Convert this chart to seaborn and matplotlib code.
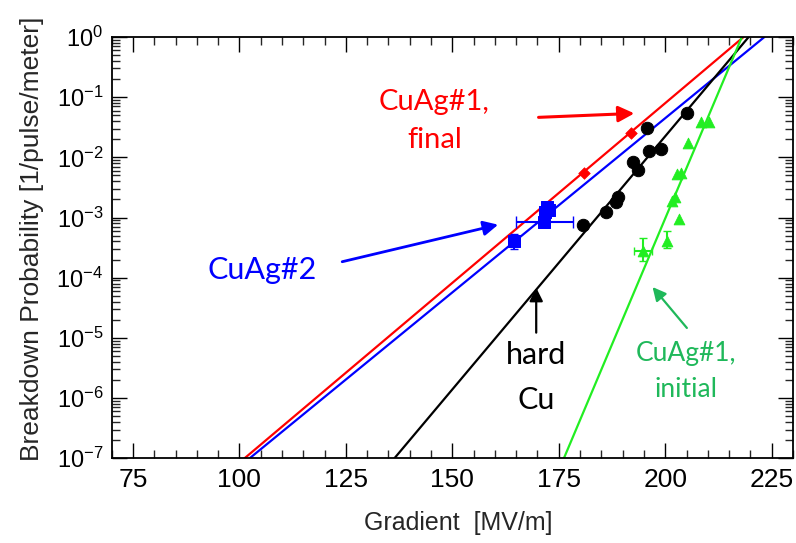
import matplotlib
matplotlib.use("Agg")
import matplotlib.pyplot as plt
import matplotlib.ticker as mticker
from matplotlib import font_manager
import numpy as np
import pandas as pd
import seaborn as sns

# ---- data ----
red_x = [180.9, 191.9]
red_y = [5.5e-3, 2.5e-2]

blue_x = [164.4, 171.6, 171.7, 172.2, 172.6]
blue_y = [4.0e-4, 8.3e-4, 1.25e-3, 1.5e-3, 1.35e-3]

black_x = [180.7, 186.1, 188.5, 189.0, 192.4, 193.6, 195.8, 196.3, 198.9, 205.1]
black_y = [7.5e-4, 1.25e-3, 1.8e-3, 2.2e-3, 8.5e-3, 6.2e-3, 3.1e-2, 1.28e-2, 1.36e-2, 5.4e-2]

green_x = [194.7, 200.5, 201.6, 202.4, 203.2, 202.8, 203.6, 205.4, 208.4, 210.2]
green_y = [2.8e-4, 4.1e-4, 1.9e-3, 2.2e-3, 9.5e-4, 5.3e-3, 5.6e-3, 1.75e-2, 3.9e-2, 3.8e-2]

# fitted lines (end points on the plot)
fit_red_x = [101.2, 218.4]
fit_blue_x = [102.4, 223.3]
fit_black_x = [136.4, 219.6]
fit_green_x = [176.2, 218.0]
fit_y = [1e-7, 1.0]

xticks = [75, 100, 125, 150, 175, 200, 225]
yticks = [1e-7, 1e-6, 1e-5, 1e-4, 1e-3, 1e-2, 1e-1, 1e0]
ytick_labels = [r"$10^{-7}$", r"$10^{-6}$", r"$10^{-5}$", r"$10^{-4}$",
                r"$10^{-3}$", r"$10^{-2}$", r"$10^{-1}$", r"$10^{0}$"]

RED = "#ff0000"
BLUE = "#0000ff"
BLACK = "#000000"
GREEN = "#22ee22"
TEXTGREEN = "#1fb85a"

sns.set_theme(style="ticks")
plt.rcParams["font.family"] = ["Liberation Sans", "DejaVu Sans"]
plt.rcParams["mathtext.fontset"] = "custom"
plt.rcParams["mathtext.rm"] = "Liberation Sans"
plt.rcParams["mathtext.it"] = "Liberation Sans"
plt.rcParams["mathtext.default"] = "regular"

names = {f.name for f in font_manager.fontManager.ttflist}
narrow = "Liberation Sans Narrow" if "Liberation Sans Narrow" in names else "Liberation Sans"
ylab_size = 21 if narrow == "Liberation Sans Narrow" else 19

fig = plt.figure(figsize=(7.96, 5.43), dpi=100)
ax = fig.add_axes([0.1403, 0.156, 0.8559, 0.7759])

# fit lines
for fx, col in [(fit_red_x, RED), (fit_blue_x, BLUE), (fit_black_x, BLACK), (fit_green_x, GREEN)]:
    df = pd.DataFrame({"x": fx, "y": fit_y})
    sns.lineplot(data=df, x="x", y="y", color=col, lw=1.6, ax=ax, zorder=2)

# error bars
ax.errorbar([164.4], [4.0e-4], yerr=[[1.0e-4], [1.4e-4]], fmt="none", ecolor=BLUE, elinewidth=1.5, capsize=3, zorder=3)
ax.errorbar([171.6], [8.3e-4], xerr=[[6.7], [6.7]], fmt="none", ecolor=BLUE, elinewidth=1.5, capsize=4, zorder=3)
ax.errorbar([200.5], [4.1e-4], yerr=[[1.0e-4], [1.8e-4]], fmt="none", ecolor=GREEN, elinewidth=1.5, capsize=3, zorder=3)
ax.errorbar([194.7], [2.8e-4], xerr=[[2.1], [2.1]], yerr=[[0.9e-4], [1.7e-4]], fmt="none", ecolor=GREEN, elinewidth=1.5, capsize=3, zorder=3)

# points
sns.scatterplot(x=red_x, y=red_y, marker="D", s=35, color=RED, edgecolor=RED, ax=ax, zorder=4)
sns.scatterplot(x=blue_x, y=blue_y, marker="s", s=80, color=BLUE, edgecolor=BLUE, ax=ax, zorder=4)
sns.scatterplot(x=black_x, y=black_y, marker="o", s=80, color=BLACK, edgecolor=BLACK, ax=ax, zorder=4)
sns.scatterplot(x=green_x, y=green_y, marker="^", s=60, color=GREEN, edgecolor=GREEN, ax=ax, zorder=4)

ax.set_yscale("log")
ax.set_xlim(70, 230)
ax.set_ylim(1e-7, 1)
ax.set_xticks(xticks)
ax.xaxis.set_minor_locator(mticker.MultipleLocator(5))
ax.set_yticks(yticks)
ax.set_yticklabels(ytick_labels)
ax.yaxis.set_minor_locator(mticker.LogLocator(base=10, subs=np.arange(2, 10), numticks=20))
ax.yaxis.set_minor_formatter(mticker.NullFormatter())
ax.tick_params(which="major", direction="in", length=11, width=1, top=True, right=True,
               labelsize=17, colors="black", pad=6)
ax.tick_params(which="minor", direction="in", length=6, width=1, top=True, right=True)
ax.tick_params(axis="x", which="major", labelsize=19, pad=7)
for sp in ax.spines.values():
    sp.set_linewidth(1.3)
    sp.set_color("black")

ax.set_xlabel("Gradient  [MV/m]", fontsize=18)
ax.xaxis.set_label_coords(0.508, -0.125)
ax.set_ylabel("Breakdown Probability [1/pulse/meter]", fontsize=ylab_size, family=[narrow, "DejaVu Sans"])
ax.yaxis.set_label_coords(-0.100, 0.52)

# annotations
afont = ["Lato", "DejaVu Sans"]
ax.text(145.8, 0.040, "CuAg#1,\nfinal", color=RED, fontsize=21, ha="center", va="center",
        family=afont, linespacing=1.58)
ax.annotate("", xy=(193.4, 0.054), xytext=(169.6, 0.046),
            arrowprops=dict(arrowstyle="-|>", color=RED, lw=2.2, mutation_scale=24))
ax.text(105.3, 1.35e-4, "CuAg#2", color=BLUE, fontsize=22, ha="center", va="center", family=afont)
ax.annotate("", xy=(161.4, 7.8e-4), xytext=(123.5, 1.8e-4),
            arrowprops=dict(arrowstyle="-|>", color=BLUE, lw=2, mutation_scale=22))
ax.text(169.7, 2.2e-6, "hard\nCu", color=BLACK, fontsize=22, ha="center", va="center",
        family=afont, linespacing=1.75)
ax.annotate("", xy=(169.7, 7.6e-5), xytext=(169.7, 1.1e-5),
            arrowprops=dict(arrowstyle="-|>", color=BLACK, lw=1.6, mutation_scale=20))
ax.text(204.9, 2.8e-6, "CuAg#1,\ninitial", color=TEXTGREEN, fontsize=19, ha="center", va="center",
        family=afont, linespacing=1.55)
ax.annotate("", xy=(196.6, 7.6e-5), xytext=(205.5, 1.35e-5),
            arrowprops=dict(arrowstyle="-|>", color=TEXTGREEN, lw=1.6, mutation_scale=20))

fig.savefig("out.png", dpi=100)
